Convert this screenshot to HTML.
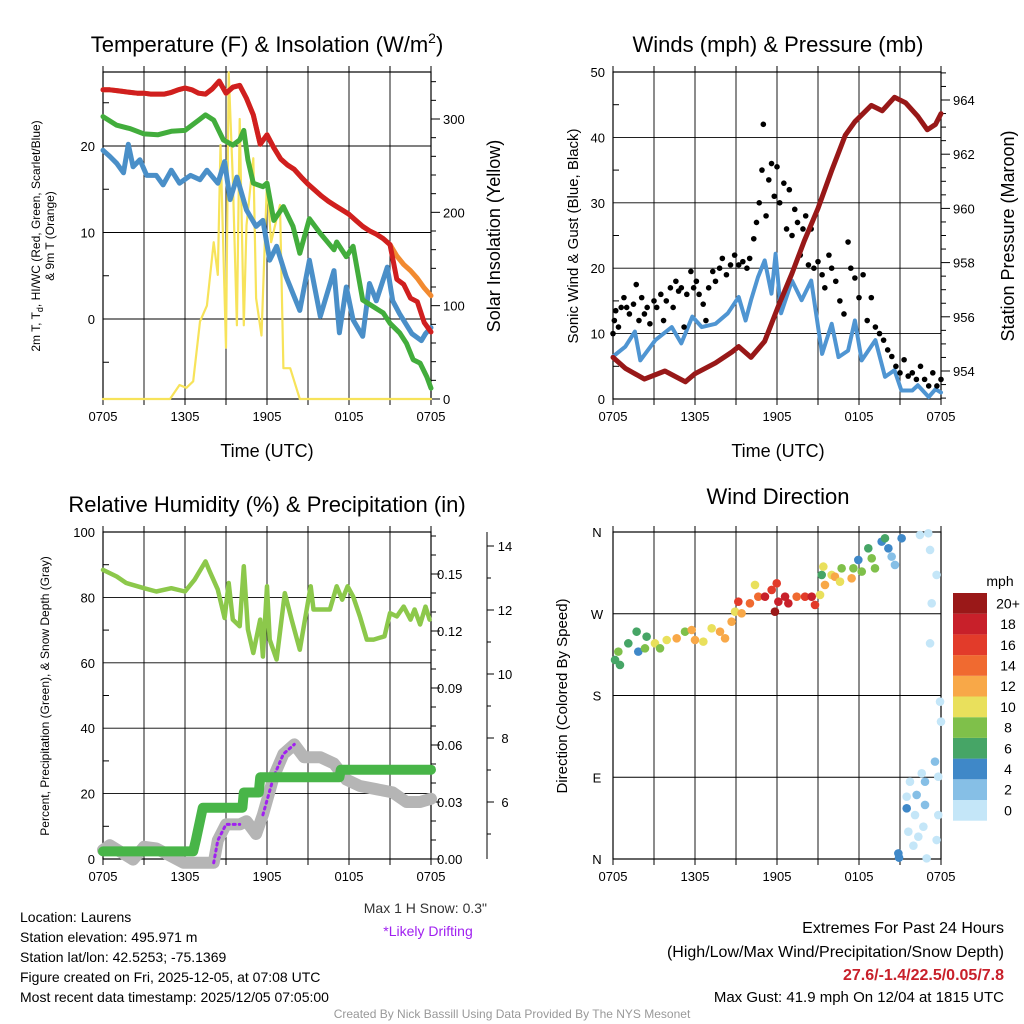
<!DOCTYPE html>
<html><head><meta charset="utf-8">
<style>
html,body{margin:0;padding:0;background:#fff;}
svg{display:block;font-family:"Liberation Sans",sans-serif;}
</style></head>
<body>
<svg id="c" width="1024" height="1024" viewBox="0 0 1024 1024" xmlns="http://www.w3.org/2000/svg">
<rect width="1024" height="1024" fill="#fff"/>
<g id="g"></g>
<text x="267" y="52" font-size="22" text-anchor="middle">Temperature (F) &amp; Insolation (W/m<tspan dy="-9" font-size="14">2</tspan><tspan dy="9">)</tspan></text>
<text x="778" y="52" font-size="22" text-anchor="middle">Winds (mph) &amp; Pressure (mb)</text>
<text x="267" y="512" font-size="22" text-anchor="middle">Relative Humidity (%) &amp; Precipitation (in)</text>
<text x="778" y="504" font-size="22" text-anchor="middle">Wind Direction</text>
<text x="267" y="457" font-size="18" text-anchor="middle">Time (UTC)</text>
<text x="778" y="457" font-size="18" text-anchor="middle">Time (UTC)</text>
<text transform="translate(40,236) rotate(-90)" font-size="12" text-anchor="middle">2m T, T<tspan dy="3" font-size="9">d</tspan><tspan dy="-3">, HI/WC (Red, Green, Scarlet/Blue)</tspan></text>
<text transform="translate(54,236) rotate(-90)" font-size="12" text-anchor="middle">&amp; 9m T (Orange)</text>
<text transform="translate(500,236) rotate(-90)" font-size="18" text-anchor="middle">Solar Insolation (Yellow)</text>
<text transform="translate(578,236) rotate(-90)" font-size="15" text-anchor="middle">Sonic Wind &amp; Gust (Blue, Black)</text>
<text transform="translate(1014,236) rotate(-90)" font-size="18" text-anchor="middle">Station Pressure (Maroon)</text>
<text transform="translate(49,696) rotate(-90)" font-size="12" text-anchor="middle">Percent, Precipitation (Green), &amp; Snow Depth (Gray)</text>
<text transform="translate(567,696) rotate(-90)" font-size="15" text-anchor="middle">Direction (Colored By Speed)</text>
<text x="1000" y="586" font-size="14" text-anchor="middle">mph</text>
<g font-size="14">
<text x="20" y="922">Location: Laurens</text>
<text x="20" y="942">Station elevation: 495.971 m</text>
<text x="20" y="962">Station lat/lon: 42.5253; -75.1369</text>
<text x="20" y="982">Figure created on Fri, 2025-12-05, at 07:08 UTC</text>
<text x="20" y="1002">Most recent data timestamp: 2025/12/05 07:05:00</text>
</g>
<text x="487" y="913" font-size="14" text-anchor="end" fill="#333">Max 1 H Snow: 0.3"</text>
<text x="428" y="936" font-size="14" text-anchor="middle" fill="#a020f0">*Likely Drifting</text>
<g font-size="16" text-anchor="end">
<text x="1004" y="933">Extremes For Past 24 Hours</text>
<text x="1004" y="957">(High/Low/Max Wind/Precipitation/Snow Depth)</text>
<text x="1004" y="980" fill="#c8202a" font-weight="bold">27.6/-1.4/22.5/0.05/7.8</text>
<text x="1004" y="1002" font-size="15">Max Gust: 41.9 mph On 12/04 at 1815 UTC</text>
</g>
<text x="512" y="1018" font-size="12" text-anchor="middle" fill="#999">Created By Nick Bassill Using Data Provided By The NYS Mesonet</text>
</svg>
<script>
// ---- data ----
const xTickLabels = ["0705","1305","1905","0105","0705"];
// red & orange: half-hourly
const tempRed = [26.5,26.5,26.4,26.3,26.2,26.1,26.1,26.0,26.0,26.0,26.2,26.5,26.7,26.5,26.1,26.0,26.6,27.5,26.1,26.8,27.0,25.5,23.6,20.2,21.3,19.8,18.5,17.8,17.3,16.4,15.6,14.9,14.2,13.6,13.1,12.6,12.1,11.4,10.7,10.2,9.8,9.3,8.6,4.6,4.0,2.4,2.0,-0.4,-1.5];
const temp9m = [26.5,26.5,26.4,26.3,26.2,26.1,26.1,26.0,26.0,26.0,26.2,26.5,26.7,26.5,26.1,26.0,26.6,27.5,26.1,26.8,27.0,25.5,23.6,20.2,21.3,19.8,18.5,17.8,17.3,16.4,15.6,14.9,14.2,13.6,13.1,12.6,12.1,11.4,10.7,10.2,9.8,9.3,8.6,7.3,6.3,5.6,4.7,3.6,2.7];
const dewHours = [0,1,2,3,4,5,6,7,7.5,8.1,8.8,9.5,10,10.3,10.6,11,11.7,12,12.5,13.2,13.9,14.4,15.1,15.9,16.9,17.1,17.8,18.3,19,19.8,20.5,21,21.7,22.2,22.7,23.2,23.7,24];
const dewGreen = [23.4,22.4,22.0,21.4,21.3,21.7,21.8,23.0,23.6,23.0,20.7,20.1,20.7,21.8,18.4,15.7,15.3,15.7,11.4,13.0,10.7,7.6,11.6,9.9,8.0,8.9,7.2,8.4,2.2,1.4,0.7,-0.5,-1.6,-2.8,-4.7,-5.1,-6.7,-8.0];
const wcHours = [0,0.5,1,1.5,1.85,2.2,2.7,3.2,3.9,4.4,5,5.6,6.4,7.1,7.6,8.4,8.9,9.3,9.8,10.5,11.2,11.7,12.2,12.7,13.4,14.4,15.1,15.9,16.9,17.3,17.8,18.3,19,19.5,20,20.8,21.2,21.7,22.6,23.3,23.6,24];
const windChill = [19.5,18.8,18.0,16.9,20.2,17.6,18.4,16.6,16.6,15.5,17.2,15.7,16.6,16.1,17.2,15.7,18.2,13.8,16.4,12.6,10.7,11.4,6.8,8.4,4.9,1.0,6.8,0.3,5.6,-1.6,3.7,-0.1,-2.0,4.1,2.1,6.0,2.1,0.6,-1.7,-2.5,-1.7,-1.0];
const solarHours = [0,4.9,5.6,6.1,6.6,7.1,7.6,8.1,8.4,8.6,9.0,9.2,9.5,9.8,10.0,10.3,10.5,11.0,11.2,11.6,12.0,12.3,12.7,12.95,13.2,13.7,14.4,24];
const solar = [0,0,15,12,19,83,100,168,133,272,55,350,236,79,300,79,186,258,108,68,233,168,193,208,33,33,0,0];
const tempTicks = [0,10,20];
const solarTicks = [0,100,200,300];

const windHours = [0,0.9,1.6,2.0,3.1,4.3,5.0,5.8,6.5,7.5,8.4,9.2,9.7,10.1,10.6,11.1,11.6,11.9,12.3,13.1,13.8,14.5,15.3,16.0,16.5,17.2,17.7,18.2,19.2,19.9,20.6,21.1,21.9,22.3,23.1,23.6,24];
const windSpeed = [6.5,8.0,10.3,5.9,9.0,11.0,8.5,12.6,11.0,11.5,13.1,15.6,12.0,15.1,18.6,21.2,16.1,22.2,13.1,18.1,15.1,18.1,6.9,11.5,6.4,7.4,12.0,5.9,9.0,3.4,4.4,1.3,1.3,2.1,0.3,1.5,1.0];
const gustHours = [0,0.1,0.2,0.4,0.6,0.8,1.0,1.2,1.5,1.7,1.9,2.1,2.3,2.5,2.7,3.0,3.2,3.5,3.7,3.9,4.2,4.4,4.6,4.8,5.0,5.2,5.4,5.7,5.9,6.1,6.3,6.6,6.8,7.0,7.3,7.5,7.8,8.0,8.3,8.6,8.9,9.2,9.5,9.8,10.0,10.3,10.5,10.7,10.9,11.0,11.2,11.4,11.6,11.8,12.0,12.2,12.5,12.7,12.9,13.1,13.3,13.5,13.7,13.9,14.1,14.3,14.5,14.7,15.0,15.3,15.5,15.8,16.0,16.3,16.6,16.9,17.2,17.4,17.7,18.0,18.3,18.6,18.9,19.2,19.5,19.8,20.1,20.4,20.7,21.0,21.3,21.6,21.9,22.2,22.5,22.8,23.1,23.4,23.7,24];
const windGust = [10,12,13.5,11,14,15.5,14,13,14.5,17.5,12,15.5,13,14,11.5,15,14,16,12,15,17,14,18,16.5,17,11,16,19.5,17,18,16,14.5,12,17,19.5,18,20,21.5,19,20.5,22,20.5,21,20,21.5,24.5,27,30,35,42,28,33.5,36,31,35.5,30,33,26,32,25,29,27,22,26,28,20.5,26,20,21,19,17,22,20,18,15,13,24,20,18.5,15.5,19,12,15.5,11,10,9,7.5,6.5,5,4,6,3.5,4,3,5,3,2,4,2,3];
const pressHours = [0,0.9,2.3,3.8,5.3,6.0,7.5,8.7,9.2,10.1,11.1,12.1,13.1,14.0,15.0,16.0,17.0,17.7,18.9,19.7,20.6,21.4,22.3,23.0,23.6,24];
const pressure = [954.5,954.1,953.7,954.0,953.6,953.9,954.3,954.7,954.9,954.5,955.1,956.4,957.6,958.8,960.0,961.4,962.7,963.2,963.8,963.6,964.1,963.9,963.4,962.9,963.1,963.5];
const windTicks = [0,10,20,30,40,50];
const pressureTicks = [954,956,958,960,962,964];

const rhHours = [0,1.0,1.7,3.0,3.9,5.0,6.0,6.7,7.5,7.8,8.4,8.9,9.2,9.5,10.0,10.3,10.6,11.0,11.5,11.7,12.0,12.2,12.7,13.3,13.8,14.4,15.2,15.4,16.1,16.6,17.1,17.5,17.9,18.3,18.8,19.3,19.8,20.6,21.0,21.5,22.0,22.5,22.8,23.2,23.6,23.9];
const rh = [88.4,86.4,84.4,82.8,81.8,82.8,81.8,85.4,91.0,88.0,82.4,73.7,84.4,73.2,71.2,89.5,70.2,63.0,73.2,61.9,83.4,67.1,61.0,81.3,73.2,64.0,83.4,76.3,76.3,76.3,83.4,79.3,83.4,80.3,74.2,67.1,67.1,68.1,75.2,74.2,77.2,73.2,76.3,71.7,77.2,73.2];
const precipHours = [0,6.6,6.8,7.3,10.2,10.3,11.4,11.5,17.3,17.4,24];
const precip = [0.004,0.004,0.010,0.027,0.027,0.035,0.035,0.043,0.043,0.047,0.047];
const snowHours = [0,0.5,2.2,3.0,3.9,5.9,8.1,8.4,9.0,10.0,10.5,11.2,11.7,12.5,13.2,14.0,14.7,15.9,16.9,17.8,18.8,20.0,21.2,22.2,23.2,24];
const snow = [4.5,4.65,4.2,4.6,4.55,4.1,4.1,4.8,5.3,5.3,5.4,5.0,5.6,6.8,7.5,7.8,7.4,7.4,7.2,6.7,6.5,6.4,6.3,6.0,6.0,6.1];
const driftStart = [8.1,11.7];
const driftEnd = [10.0,14.0];
const rhTicks = [0,20,40,60,80,100];
const precipTicks = [0.00,0.03,0.06,0.09,0.12,0.15];
const snowTicks = [6,8,10,12,14];

const dirHours = [0.15,0.51,0.39,1.12,1.73,1.85,2.46,2.34,3.07,3.44,3.93,4.66,5.27,5.76,6.0,6.61,7.22,7.83,8.2,8.68,8.93,9.17,9.41,10.02,10.39,10.63,11.12,11.61,11.98,11.85,12.1,12.59,12.83,13.44,14.05,14.54,14.78,15.15,15.27,15.39,15.51,16.0,16.24,16.61,16.73,17.46,17.59,17.95,18.2,18.68,18.93,19.17,19.66,19.9,20.15,20.39,20.63,21.12,22.46,23.07,23.2,23.68,23.32,23.2,23.93,24.0,23.56,23.8,22.59,22.83,21.73,22.22,21.49,21.49,22.1,22.83,23.8,22.71,21.61,22.34,23.68,21.98,20.88,20.93,22.95];
const windDir = [219.1,213.6,228.3,237.4,250.3,228.3,244.8,231.9,237.4,231.9,241.1,243.0,250.3,252.1,241.1,239.3,254.0,250.3,243.0,261.3,272.3,283.3,270.5,281.5,301.7,288.8,288.8,296.2,303.5,272.3,283.3,288.8,281.5,288.8,288.8,288.8,279.7,290.7,312.7,321.9,301.7,312.7,310.8,305.3,320.0,309.0,320.0,329.2,316.4,342.0,331.0,320.0,349.4,353.1,342.0,332.9,323.7,353.1,356.7,358.6,340.2,312.7,281.5,237.4,173.2,151.2,107.2,90.6,94.3,85.1,85.1,70.5,68.6,55.8,48.4,59.5,48.4,35.6,30.1,24.6,20.9,14.7,6.2,1.5,0.7];
const dirSpeed = [6,6,8,6,6,4,6,8,10,8,10,12,8,12,12,10,10,12,12,12,10,16,12,14,10,14,18,16,16,20,18,18,18,14,16,18,16,10,6,10,12,10,12,10,8,12,8,4,8,6,8,8,4,6,4,2,2,4,0,0,0,0,0,0,0,0,2,0,0,2,0,2,0,4,0,2,0,0,0,0,0,0,4,4,0];
const dirTicks = ["N","E","S","W","N"];
const cbLabels = ["0","2","4","6","8","10","12","14","16","18","20+"];
const cbColors = ["#c4e6f8","#86bfe6","#3f88c8","#46a566","#7fc04a","#e9e05c","#f8a848","#f06a30","#e23b2a","#c8202a","#9a1818"];

const NS="http://www.w3.org/2000/svg";
const G=document.getElementById('g');
function mk(tag,attrs,parent){const e=document.createElementNS(NS,tag);for(const k in attrs)e.setAttribute(k,attrs[k]);(parent||G).appendChild(e);return e;}
function lin(d0,d1,r0,r1){return v=>r0+(v-d0)*(r1-r0)/(d1-d0);}
function tick(x1,y1,x2,y2){mk('line',{x1:x1,y1:y1,x2:x2,y2:y2,stroke:'#000','stroke-width':1});}

function frame(x0,y0,x1,y1,name){
  const f=mk('rect',{x:x0,y:y0,width:x1-x0,height:y1-y0,fill:'none',stroke:'#000','stroke-width':1.2});
  
  
  const xs=lin(0,24,x0,x1);
  for(let h=3;h<24;h+=3){ const x=xs(h); mk('line',{x1:x,y1:y0,x2:x,y2:y1,stroke:'#000','stroke-width':0.9}); }
  for(let h=0;h<=24;h+=3){ const x=xs(h); tick(x,y1,x,y1+6); tick(x,y0,x,y0-6); }
  for(let i=0;i<5;i++){
    const t=mk('text',{x:xs(i*6),y:y1+22,'font-size':13,'text-anchor':'middle'});
    t.textContent=xTickLabels[i];
    
    
  }
  return xs;
}
function labels(ys,ticks,labelX,anchor,fmt){
  ticks.forEach(v=>{
    const t=mk('text',{x:labelX,y:ys(v)+5,'font-size':13,'text-anchor':anchor});
    t.textContent=fmt?fmt(v):v;
    
    
  });
}
function hline(x0,x1,y){mk('line',{x1:x0,y1:y,x2:x1,y2:y,stroke:'#000','stroke-width':0.9});}
function line(hours,arr,xs,ys,color,w,name){
  const pts=arr.map((v,i)=>xs(hours[i]).toFixed(1)+','+ys(v).toFixed(1)).join(' ');
  const p=mk('polyline',{points:pts,fill:'none',stroke:color,'stroke-width':w,'stroke-linejoin':'round','stroke-linecap':'round'});
  
  
  return p;
}
const halfHours = tempRed.map((_,i)=>i*0.5);

// Panel 1
{
  const x0=103,x1=431,y0=72,y1=399;
  const xs=frame(x0,y0,x1,y1,'temperature-plot-area');
  const ys=lin(0,10,319,232.5), ysR=lin(0,300,399,119);
  tempTicks.forEach(v=>hline(x0,x1,ys(v)));
  for(let v=-5;v<=25;v+=10) tick(x0,ys(v),x0+6,ys(v));
  for(let v=0;v<=340;v+=20) tick(x1,ysR(v),x1+(v%100==0?9:5),ysR(v));
  labels(ys,tempTicks,x0-8,'end');
  labels(ysR,solarTicks,x1+12,'start');
  line(solarHours,solar,xs,ysR,'#f7e35a',2.2,'solar-insolation-line');
  line(wcHours,windChill,xs,ys,'#4a8fc8',5,'wind-chill-line');
  line(dewHours,dewGreen,xs,ys,'#42ad3c',5,'dewpoint-line');
  line(halfHours,temp9m,xs,ys,'#f28a30',5,'temp-9m-line');
  line(halfHours,tempRed,xs,ys,'#d01f1f',5,'temp-2m-line');
}
// Panel 2
{
  const x0=613,x1=941,y0=72,y1=399;
  const xs=frame(x0,y0,x1,y1,'winds-plot-area');
  const ys=lin(0,50,399,72), ysR=lin(954,964,371,100);
  [10,20,30,40].forEach(v=>hline(x0,x1,ys(v)));
  for(let v=5;v<=45;v+=10) tick(x0,ys(v),x0+6,ys(v));
  for(let v=953;v<=965;v+=0.5) tick(x1,ysR(v),x1+(v%2==0?9:5),ysR(v));
  labels(ys,windTicks,x0-8,'end');
  labels(ysR,pressureTicks,x1+12,'start');
  line(windHours,windSpeed,xs,ys,'#4f95d2',4,'sonic-wind-line');
  windGust.forEach((v,i)=>{
    const c=mk('circle',{cx:xs(gustHours[i]),cy:ys(v),r:2.8,fill:'#000'});
    
    
  });
  line(pressHours,pressure,xs,ysR,'#981818',5,'pressure-line');
}
// Panel 3
{
  const x0=103,x1=431,y0=532,y1=859;
  const xs=frame(x0,y0,x1,y1,'humidity-plot-area');
  const ys=lin(0,100,859,532), ysP=lin(0,0.03,859,802), ysS=lin(6,14,802,546);
  [20,40,60,80].forEach(v=>hline(x0,x1,ys(v)));
  for(let v=10;v<=90;v+=20) tick(x0,ys(v),x0+6,ys(v));
  for(let v=0;v<=0.17;v+=0.01) tick(x1,ysP(v),x1+(Math.round(v*100)%3==0?9:5),ysP(v));
  labels(ys,rhTicks,x0-8,'end');
  labels(ysP,precipTicks,x1+6,'start',v=>v.toFixed(2));
  mk('line',{x1:487,y1:532,x2:487,y2:859,stroke:'#000','stroke-width':1});
  for(let v=5;v<=14;v+=1) tick(487,ysS(v),v%2==0?494:491,ysS(v));
  labels(ysS,snowTicks,505,'middle');
  line(snowHours,snow,xs,ysS,'#b5b5b5',12,'snow-depth-line');
  driftStart.forEach((s,k)=>{
    const hs=[],vs=[];
    snowHours.forEach((h,i)=>{ if(h>=s&&h<=driftEnd[k]){hs.push(h);vs.push(snow[i]);} });
    const p=line(hs,vs,xs,ysS,'#a020f0',3,'drifting-segment');
    p.setAttribute('stroke-dasharray','2 4');
  });
  line(precipHours,precip,xs,ysP,'#48b548',10,'precip-line');
  line(rhHours,rh,xs,ys,'#8cc84b',4.5,'rh-line');
}
// Panel 4
{
  const x0=613,x1=941,y0=532,y1=859;
  const xs=frame(x0,y0,x1,y1,'wind-direction-plot-area');
  const ys=lin(0,360,859,532);
  dirTicks.forEach((l,i)=>{
    const y=ys(i*90);
    if(i>0&&i<4) hline(x0,x1,y);
    const t=mk('text',{x:x0-16,y:y+5,'font-size':13,'text-anchor':'middle'});
    t.textContent=l;
    
    
  });
  windDir.forEach((d,i)=>{
    const k=Math.min(10,Math.round(dirSpeed[i]/2));
    const c=mk('circle',{cx:xs(dirHours[i]),cy:ys(d),r:4.3,fill:cbColors[k]});
    
    
  });
  const cy0=593,ch=20.7;
  cbColors.forEach((col,i)=>{
    const y=cy0+(10-i)*ch;
    const r=mk('rect',{x:953,y:y,width:34,height:ch,fill:col});
    
    
    const t=mk('text',{x:1008,y:y+ch/2+5,'font-size':14,'text-anchor':'middle'});
    t.textContent=cbLabels[i];
    
    
  });
}
</script>
</body></html>
